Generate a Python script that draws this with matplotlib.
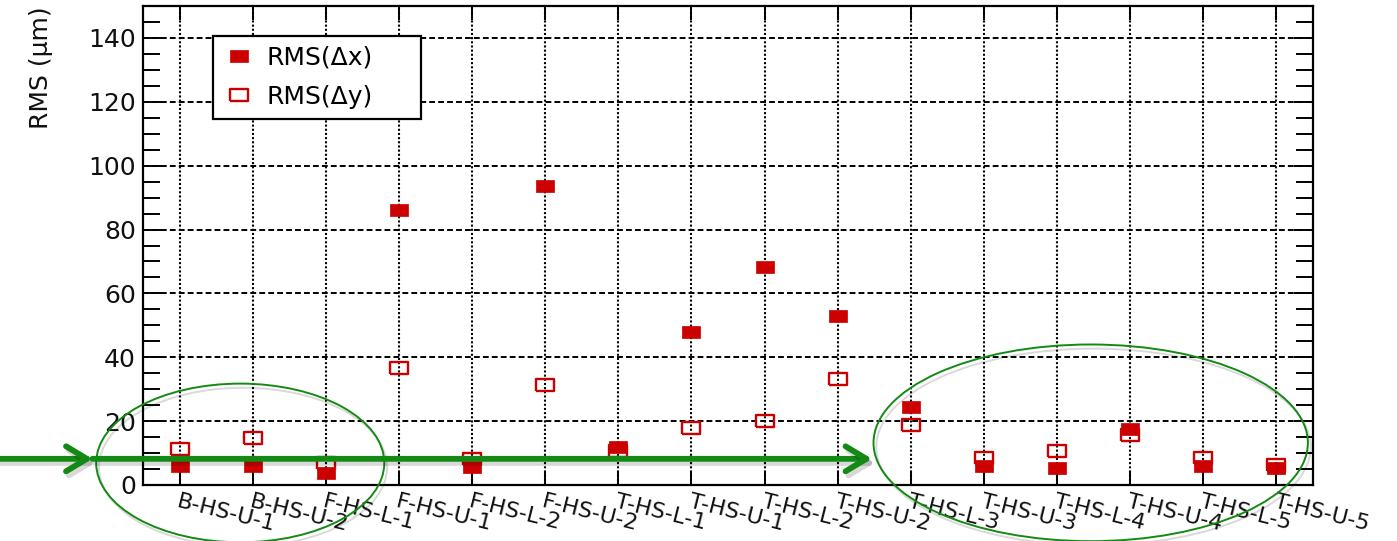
import matplotlib
matplotlib.use('Agg')
import matplotlib.pyplot as plt
import matplotlib.patheffects as pe
from matplotlib.patches import Ellipse
from matplotlib.ticker import MultipleLocator

modules = ['B-HS-U-1', 'B-HS-U-2', 'F-HS-L-1', 'F-HS-U-1', 'F-HS-L-2', 'F-HS-U-2',
           'T-HS-L-1', 'T-HS-U-1', 'T-HS-L-2', 'T-HS-U-2', 'T-HS-L-3', 'T-HS-U-3',
           'T-HS-L-4', 'T-HS-U-4', 'T-HS-L-5', 'T-HS-U-5']
rms_dx = [6.0, 6.0, 3.9, 86.1, 5.6, 93.7, 12.0, 47.8, 68.2, 53.0,
          24.4, 6.0, 5.2, 17.5, 6.0, 5.2]
rms_dy = [11.2, 14.7, 7.0, 36.5, 8.0, 31.2, 10.5, 17.8, 19.9, 33.2,
          18.7, 8.6, 10.5, 15.7, 8.6, 6.3]

plt.rcParams['font.family'] = ['DejaVu Sans']

RED = '#cc0000'
GREEN = '#138a13'
# wide rectangular box marker
box = [(-1.45, -1), (1.45, -1), (1.45, 1), (-1.45, 1), (-1.45, -1)]

fig = plt.figure(figsize=(13.97, 5.41), dpi=100)
ax = fig.add_axes([143 / 1397, 1 - 485 / 541, 1170 / 1397, 479 / 541])

x = list(range(len(modules)))
ax.plot(x, rms_dy, ls='none', marker=box, ms=13, mfc='none', mec=RED, mew=1.7,
        label='RMS(\u0394y)', zorder=3)
ax.plot(x, rms_dx, ls='none', marker=box, ms=13.5, mfc=RED, mec=RED, mew=0.5,
        label='RMS(\u0394x)', zorder=4)

ax.set_xlim(-0.5, len(modules) - 0.5)
ax.set_ylim(0, 150)
ax.yaxis.set_major_locator(MultipleLocator(20))
ax.yaxis.set_minor_locator(MultipleLocator(5))
ax.set_xticks(x)
ax.set_xticklabels(modules, rotation=-14, ha='left', va='top',
                   rotation_mode='anchor', fontsize=16, color='#111111')
ax.tick_params(axis='y', which='major', direction='in', left=True, right=True,
               length=14, width=1.4, labelsize=18, pad=5, labelcolor='#111111')
ax.tick_params(axis='y', which='minor', direction='in', left=True, right=True,
               length=12, width=1.4)
ax.tick_params(axis='x', which='major', direction='in', top=True, bottom=True,
               length=10, width=1.4, pad=5)

ax.grid(axis='x', color='k', lw=1.5, ls=(0, (1, 1)), zorder=1)
ax.grid(axis='y', which='major', color='k', lw=1.4, ls=(0, (3, 1.6)), zorder=1)
ax.set_axisbelow(True)
for s in ax.spines.values():
    s.set_linewidth(1.6)

ax.set_ylabel('RMS (\u03bcm)', loc='top', fontsize=18, color='#111111')
ax.yaxis.set_label_coords(-0.077, 1.0)

h, l = ax.get_legend_handles_labels()
leg_top = 1 - 36 / 541
leg = ax.legend(h[::-1], l[::-1], loc='upper left',
                bbox_to_anchor=(213 / 1397, leg_top - 0.1, 208 / 1397, 0.1),
                bbox_transform=fig.transFigure, mode='expand', fontsize=18,
                frameon=True, fancybox=False, edgecolor='k', framealpha=1,
                borderpad=0.4, labelspacing=0.6, handlelength=1.3,
                handletextpad=0.45, borderaxespad=0)
leg.get_frame().set_linewidth(1.6)
leg.set_zorder(5)

# green highlight: ellipses around the low-RMS modules and the arrow
shadow = [pe.SimpleLineShadow(offset=(2, -3), alpha=0.15), pe.Normal()]
for cx, cy, w, hgt in [(0.83, 6.9, 3.94, 49.7), (12.46, 13.2, 5.94, 61.6)]:
    ax.add_patch(Ellipse((cx, cy), w, hgt, fill=False, ec=GREEN, lw=1.4,
                         clip_on=False, zorder=6, path_effects=shadow))

for x0, x1 in [(-2.5, -1.19), (-1.19, 9.47)]:
    ax.annotate('', xy=(x1, 8.2), xytext=(x0, 8.2), annotation_clip=False,
                arrowprops=dict(arrowstyle='->,head_length=1.5,head_width=0.9',
                                color=GREEN, lw=4.2, shrinkA=0, shrinkB=0,
                                path_effects=shadow),
                zorder=7)

fig.savefig('out.png', dpi=100)
